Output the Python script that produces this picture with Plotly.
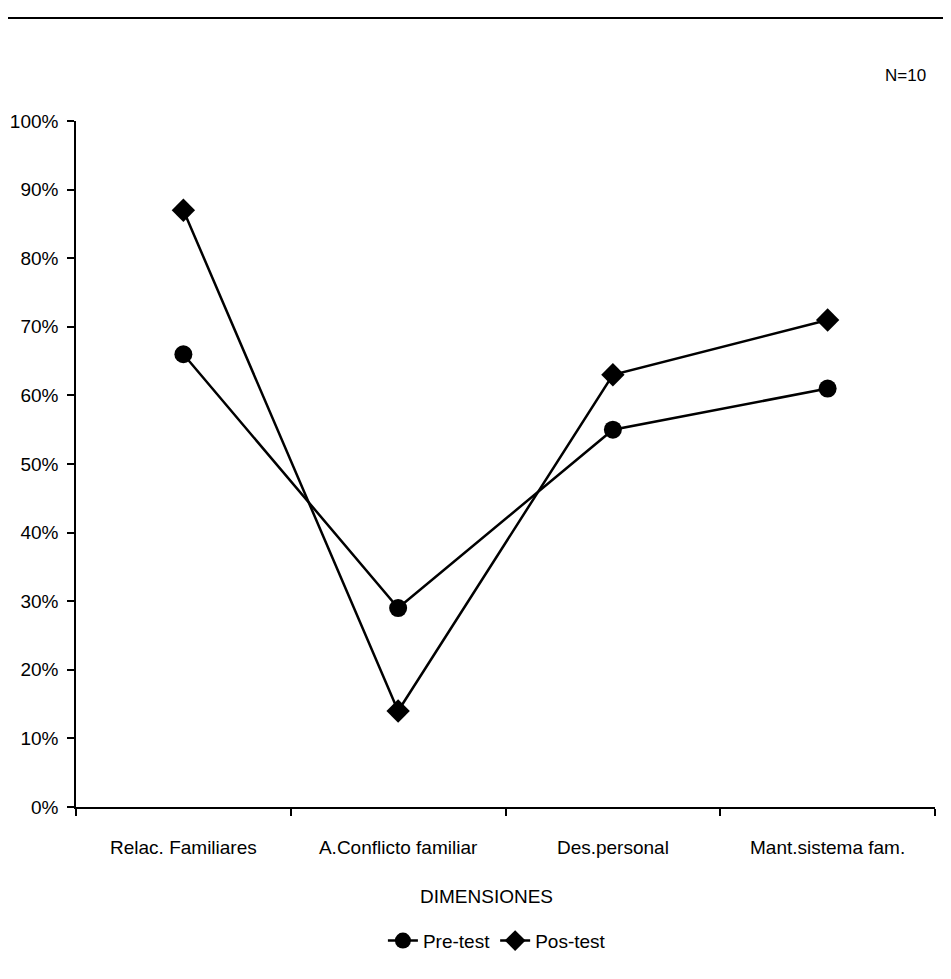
import plotly.graph_objects as go

categories = ["Relac. Familiares", "A.Conflicto familiar", "Des.personal", "Mant.sistema fam."]
pre_test = [66, 29, 55, 61]
pos_test = [87, 14, 63, 71]
y_ticks = list(range(0, 101, 10))
y_tick_labels = [f"{v}%" for v in y_ticks]

FONT = "Liberation Sans, Arial, sans-serif"

fig = go.Figure()
fig.add_trace(go.Scatter(
    x=categories, y=pre_test, name="Pre-test", mode="lines+markers",
    line=dict(color="black", width=2.5),
    marker=dict(symbol="circle", size=18, color="black"),
))
fig.add_trace(go.Scatter(
    x=categories, y=pos_test, name="Pos-test", mode="lines+markers",
    line=dict(color="black", width=2.5),
    marker=dict(symbol="diamond", size=18, color="black"),
))

fig.update_layout(
    width=951, height=979,
    margin=dict(l=68, r=24, t=113, b=180),
    paper_bgcolor="white", plot_bgcolor="white",
    font=dict(family=FONT, size=19, color="black"),
    showlegend=True,
    legend=dict(orientation="h", x=0.49, xanchor="center", y=-0.195, yanchor="middle",
                font=dict(size=19), itemwidth=30, tracegroupgap=0),
    xaxis=dict(
        type="category", range=[-0.5, 3.5], tickson="boundaries", automargin=False,
        ticks="outside", ticklen=7, tickcolor="black", tickwidth=1.5,
        showline=True, linecolor="black", linewidth=1.5, showgrid=False,
        ticklabelstandoff=22, tickfont=dict(size=19),
    ),
    yaxis=dict(
        range=[0, 100], tickmode="array", tickvals=y_ticks, ticktext=y_tick_labels,
        automargin=False,
        ticks="outside", ticklen=7, tickcolor="black", tickwidth=1.5,
        showline=True, linecolor="black", linewidth=1.5, showgrid=False,
        zeroline=False, tickfont=dict(size=19), ticklabelstandoff=5,
    ),
    shapes=[dict(type="line", xref="paper", yref="paper",
                 x0=-0.08, x1=1.04, y0=1.150, y1=1.150,
                 line=dict(color="black", width=2))],
    annotations=[
        dict(text="N=10", xref="paper", yref="paper", x=0.966, y=1.066,
             showarrow=False, font=dict(size=17), xanchor="center", yanchor="middle"),
        dict(text="DIMENSIONES", xref="paper", yref="paper", x=0.478, y=-0.130,
             showarrow=False, font=dict(size=19), xanchor="center", yanchor="middle"),
    ],
)

fig.write_html("out.html")
